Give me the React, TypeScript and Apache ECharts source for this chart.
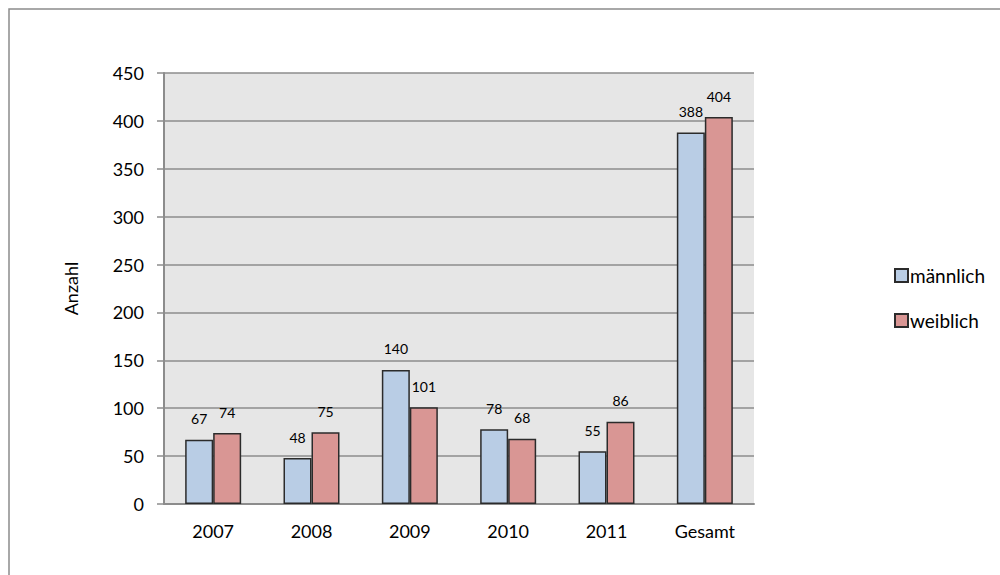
import React, { useEffect, useRef } from "react";
import * as echarts from "echarts";

const categories = ["2007", "2008", "2009", "2010", "2011", "Gesamt"];
const maennlich = [67, 48, 140, 78, 55, 388];
const weiblich = [74, 75, 101, 68, 86, 404];
const seriesNames = ["männlich", "weiblich"];
const yAxisName = "Anzahl";

const FONT = "Lato, 'Liberation Sans', sans-serif";

export default function App() {
  const ref = useRef<HTMLDivElement>(null);
  useEffect(() => {
    if (!ref.current) return;
    const chart = echarts.init(ref.current, null, { renderer: "svg" });
    const label = {
      show: true,
      position: "top" as const,
      distance: 14,
      fontSize: 14,
      color: "#000",
      fontFamily: FONT,
    };
    chart.setOption({
      animation: false,
      backgroundColor: "#fff",
      textStyle: { fontFamily: FONT },
      graphic: [
        {
          type: "rect",
          shape: { x: 9, y: 9, width: 1100, height: 700 },
          style: { fill: "none", stroke: "#8c8c8c", lineWidth: 1.5 },
          silent: true,
        },
      ],
      grid: {
        left: 164,
        top: 73,
        width: 590,
        height: 431,
        show: true,
        backgroundColor: "#e6e6e6",
        borderWidth: 0,
      },
      legend: {
        orient: "vertical",
        left: 889,
        top: 261,
        itemWidth: 13,
        itemHeight: 13,
        itemGap: 26,
        icon: "rect",
        textStyle: { fontSize: 19, color: "#000", fontFamily: FONT, padding: [0, 0, 0, -3] },
        data: seriesNames,
      },
      xAxis: {
        type: "category",
        data: categories,
        axisLine: { show: true, lineStyle: { color: "#8c8c8c", width: 2 } },
        axisTick: { show: false },
        axisLabel: { fontSize: 18, color: "#000", margin: 18, fontFamily: FONT },
      },
      yAxis: {
        type: "value",
        min: 0,
        max: 450,
        interval: 50,
        name: yAxisName,
        nameLocation: "middle",
        nameGap: 84,
        nameRotate: 90,
        nameTextStyle: { fontSize: 18, color: "#000", fontFamily: FONT },
        axisLine: { show: true, lineStyle: { color: "#8c8c8c", width: 2 } },
        axisTick: { show: true, length: 7, lineStyle: { color: "#8c8c8c", width: 1.5 } },
        axisLabel: { fontSize: 18, color: "#000", margin: 20, fontFamily: FONT },
        splitLine: { show: true, lineStyle: { color: "#8c8c8c", width: 1.5 } },
      },
      series: [
        {
          name: seriesNames[0],
          type: "bar",
          data: maennlich,
          barWidth: 28,
          barGap: "0%",
          itemStyle: { color: "#b9cde5", borderColor: "#2b2b2b", borderWidth: 1.5 },
          label,
        },
        {
          name: seriesNames[1],
          type: "bar",
          data: weiblich,
          barWidth: 28,
          barGap: "0%",
          itemStyle: { color: "#d99694", borderColor: "#2b2b2b", borderWidth: 1.5 },
          label,
        },
      ],
    });
    return () => chart.dispose();
  }, []);
  return (
    <div
      ref={ref}
      style={{ position: "fixed", left: 0, top: 0, width: 1000, height: 575 }}
    />
  );
}
